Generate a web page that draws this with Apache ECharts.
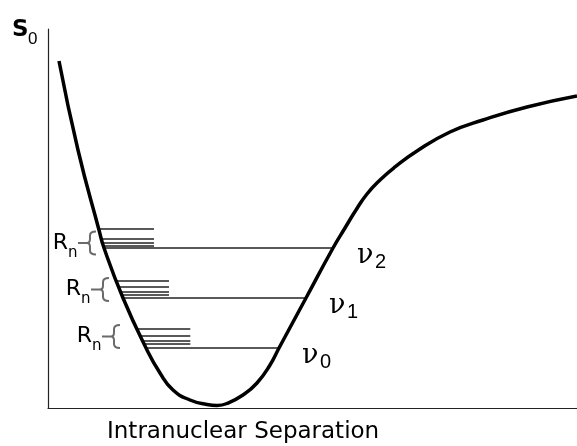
<!DOCTYPE html>
<html><head><meta charset="utf-8">
<script src="https://cdn.jsdelivr.net/npm/echarts@6/dist/echarts.min.js"></script>
<style>html,body{margin:0;padding:0;background:#fff}#c{width:577px;height:446px}</style>
</head><body><div id="c"></div>
<script>
// Potential energy curve (arbitrary units: x = separation 0..100, y = energy 0..100)
const curveX = [2.08, 5.67, 9.64, 10.59, 14.18, 18.53, 21.17, 23.63, 26.84, 30.06, 31.95, 33.84, 36.86, 39.51, 41.97, 43.67, 48.77, 53.88, 56.14, 58.22, 60.30, 62.76, 65.60, 69.75, 75.99, 82.23, 90.55, 100];
const curveY = [91.56, 68.07, 46.97, 42.22, 29.02, 15.83, 9.23, 4.75, 2.11, 0.92, 0.66, 1.19, 3.43, 6.60, 11.35, 15.83, 29.02, 42.22, 47.49, 52.24, 56.46, 60.16, 63.59, 67.81, 72.82, 75.99, 79.42, 82.32];

// Vibrational levels v0, v1, v2
const levelNames = ['0', '1', '2'];
const levelY = [15.83, 29.02, 42.22];
const levelLeftX = [18.53, 14.18, 10.59];
const levelRightX = [43.48, 48.58, 53.88];

// Rotational sub-levels (4 per vibrational level)
const rotY = [[20.84, 19.00, 17.68, 16.89], [33.51, 31.93, 30.61, 29.82], [47.23, 44.59, 43.54, 42.74]];
const rotStartX = [[16.90, 17.49, 17.92, 18.19], [12.85, 13.33, 13.71, 13.89], [9.64, 10.11, 10.30, 10.49]];
const rotEndX = [26.90, 22.87, 20.04];

// Brace (R_n) anchor points
const braceX = [11.91, 9.83, 7.37];
const braceY = [18.87, 31.27, 43.54];

const curveData = curveX.map((x, i) => [x, curveY[i]]);
const segs = [];
levelY.forEach((y, i) => {
  segs.push({coords: [[levelLeftX[i], y], [levelRightX[i], y]]});
  rotY[i].forEach((ry, j) => segs.push({coords: [[rotStartX[i][j], ry], [rotEndX[i], ry]]}));
});

const chart = echarts.init(document.getElementById('c'), null, {renderer: 'canvas'});
chart.setOption({
  animation: false,
  backgroundColor: '#fff',
  grid: {left: 48, right: 0, top: 29, bottom: 38},
  xAxis: {type: 'value', min: 0, max: 100, axisLine: {lineStyle: {color: '#222', width: 1.2}}, axisTick: {show: false}, axisLabel: {show: false}, splitLine: {show: false}},
  yAxis: {type: 'value', min: 0, max: 100, axisLine: {show: true, lineStyle: {color: '#222', width: 1.2}}, axisTick: {show: false}, axisLabel: {show: false}, splitLine: {show: false}},
  graphic: [
    {type: 'text', left: 12, top: 19, style: {text: 'S', font: 'bold 23px "DejaVu Sans"', fill: '#000'}},
    {type: 'text', left: 28, top: 31, style: {text: '0', font: '17px "Liberation Sans"', fill: '#000'}},
    {type: 'text', left: 107, top: 421, style: {text: 'Intranuclear Separation', font: '23px "DejaVu Sans"', fill: '#000'}}
  ],
  series: [
    {type: 'lines', coordinateSystem: 'cartesian2d', z: 2, silent: true,
     lineStyle: {color: '#222', width: 1.5, opacity: 1}, data: segs},
    {type: 'line', data: curveData, smooth: 0.5, showSymbol: false, z: 3, silent: true,
     lineStyle: {color: '#000', width: 3.5}},
    {type: 'custom', z: 4, silent: true,
     data: braceX.map((x, i) => [x, braceY[i]]),
     renderItem: function (params, api) {
       const p = api.coord([api.value(0), api.value(1)]);
       const x = p[0], y = p[1], h = 11.5, w = 9;
       const d = 'M' + (x + w) + ' ' + (y - h) + ' Q' + (x + 3) + ' ' + (y - h) + ' ' + (x + 3) + ' ' + (y - h + 4) +
         ' L' + (x + 3) + ' ' + (y - 4) + ' Q' + (x + 3) + ' ' + y + ' ' + x + ' ' + y +
         ' Q' + (x + 3) + ' ' + y + ' ' + (x + 3) + ' ' + (y + 4) +
         ' L' + (x + 3) + ' ' + (y + h - 4) + ' Q' + (x + 3) + ' ' + (y + h) + ' ' + (x + w) + ' ' + (y + h) +
         ' M' + (x - 9) + ' ' + y + ' L' + x + ' ' + y;
       return {type: 'group', children: [
         {type: 'path', shape: {pathData: d}, style: {stroke: '#6a6a6a', lineWidth: 2, fill: null}},
         {type: 'text', x: x - 19, y: y, style: {text: 'R', font: '22px "DejaVu Sans"', fill: '#000', align: 'right', verticalAlign: 'middle'}},
         {type: 'text', x: x - 19, y: y + 10, style: {text: 'n', font: '15px "DejaVu Sans"', fill: '#000', align: 'left', verticalAlign: 'middle'}}
       ]};
     }},
    {type: 'custom', z: 4, silent: true,
     data: levelRightX.map((x, i) => [x, levelY[i], i]),
     renderItem: function (params, api) {
       const p = api.coord([api.value(0), api.value(1)]);
       const x = p[0], y = p[1];
       const idx = api.value(2);
       return {type: 'group', children: [
         {type: 'text', x: x + 24, y: y + 8, style: {text: 'ν', font: '27px "DejaVu Serif"', fill: '#000', align: 'left', verticalAlign: 'middle'}},
         {type: 'text', x: x + 42, y: y + 14.5, style: {text: levelNames[idx], font: '20px "Liberation Sans"', fill: '#000', align: 'left', verticalAlign: 'middle'}}
       ]};
     }}
  ]
});
</script>
</body></html>
